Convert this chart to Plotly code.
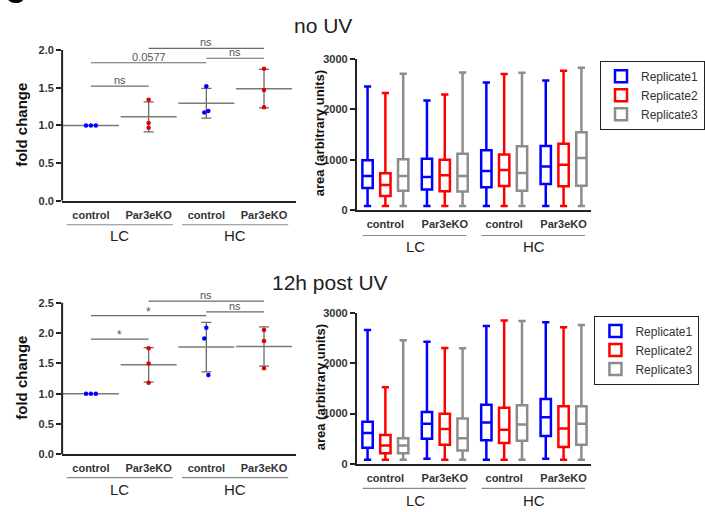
import numpy as np
import plotly.graph_objects as go

# ---------------- data ----------------
CATS = ["control", "Par3eKO", "control", "Par3eKO"]
GROUPS = ["LC", "HC"]
REPS = ["Replicate1", "Replicate2", "Replicate3"]

# fold change, three biological replicates per condition
FC_NOUV = [[1.00, 1.00, 1.00], [1.34, 1.03, 0.97], [1.52, 1.17, 1.19], [1.75, 1.47, 1.24]]
FC_UV = [[1.00, 1.00, 1.00], [1.75, 1.50, 1.18], [2.09, 1.91, 1.31], [2.05, 1.87, 1.42]]

# significance comparisons: (cat a, cat b, height, label)
SIG_NOUV = [(0, 1, 1.52, "ns"), (0, 2, 1.83, "0.0577"), (2, 3, 1.89, "ns"), (1, 3, 2.02, "ns")]
SIG_UV = [(0, 1, 1.90, "*"), (0, 2, 2.29, "*"), (2, 3, 2.35, "ns"), (1, 3, 2.53, "ns")]

# box statistics (area, arbitrary units) - no UV
NOUV_MIN = [[80, 80, 80, 80], [80, 80, 80, 80], [80, 80, 80, 80]]
NOUV_Q1 = [[439, 406, 452, 516], [277, 374, 477, 471], [381, 368, 381, 484]]
NOUV_MED = [[677, 658, 774, 865], [497, 690, 794, 897], [677, 677, 735, 1032]]
NOUV_Q3 = [[987, 1019, 1187, 1271], [729, 1000, 1103, 1316], [1006, 1116, 1264, 1542]]
NOUV_MAX = [[2452, 2174, 2529, 2568], [2322, 2290, 2697, 2761], [2703, 2729, 2723, 2819]]

# box statistics - 12h post UV
UV_MIN = [[84, 103, 84, 103], [84, 84, 84, 84], [84, 84, 84, 84]]
UV_Q1 = [[324, 500, 472, 557], [214, 383, 414, 336], [214, 266, 460, 383]]
UV_MED = [[616, 797, 822, 927], [369, 694, 680, 706], [369, 511, 783, 797]]
UV_Q3 = [[836, 1030, 1172, 1289], [577, 997, 1114, 1147], [511, 900, 1166, 1147]]
UV_MAX = [[2657, 2424, 2735, 2812], [1522, 2300, 2844, 2708], [2455, 2294, 2832, 2754]]

# ---------------- style ----------------
W, H = 705, 512
FONT = "Liberation Sans, Arial, sans-serif"
REP_COLORS = ["#0000ff", "#ff0000", "#8c8c8c"]
PT_COLORS = ["#0000ff", "#e00000", "#0000ff", "#e00000"]
JITTER = [[-0.085, 0.0, 0.085], [0, 0, 0], [0.0, -0.035, 0.035], [0, 0, 0]]
AX = "#222222"
SIGC = "#6a6a6a"
POS = [0, 1, 2, 3]


def px_x(p):
    return p / W


def px_y(p):
    return 1 - p / H


fig = go.Figure()


def dot_panel(data, sig, xa, ya, axis_max):
    xr = "x" if xa == 1 else "x%d" % xa
    yr = "y" if ya == 1 else "y%d" % ya
    for i, pts in enumerate(data):
        arr = np.array(pts)
        m, sd = arr.mean(), arr.std(ddof=1)
        fig.add_trace(go.Scatter(
            x=[POS[i]], y=[m], mode="markers", xaxis=xr, yaxis=yr, showlegend=False,
            marker=dict(symbol="line-ew-open", size=40, color="#7a7a7a",
                        line=dict(width=1.5, color="#7a7a7a")),
            error_y=dict(type="data", array=[sd], visible=True, width=5,
                         thickness=1.3, color="#6a6a6a"),
            hoverinfo="skip"))
    for i, pts in enumerate(data):
        fig.add_trace(go.Scatter(
            x=[POS[i] + j for j in JITTER[i]], y=pts, mode="markers",
            xaxis=xr, yaxis=yr, showlegend=False,
            marker=dict(size=4.5, color=PT_COLORS[i]), hoverinfo="skip"))
    for a, b, h, lab in sig:
        fig.add_shape(type="line", xref=xr, yref=yr, x0=POS[a], x1=POS[b], y0=h, y1=h,
                      line=dict(color=SIGC, width=1.2))
        fig.add_annotation(x=(POS[a] + POS[b]) / 2, y=h, xref=xr, yref=yr, text=lab,
                           showarrow=False, xanchor="center", yanchor="bottom",
                           yshift=(-5 if lab == "*" else -2),
                           font=dict(size=(12 if lab == "*" else 11), color="#555555"))
    # y-axis line up to the top tick only
    fig.add_shape(type="line", xref=xr + " domain", yref=yr, x0=0, x1=0, y0=0, y1=axis_max,
                  line=dict(color=AX, width=2))


def group_labels(xr, y_line, y_text, lo, hi):
    for g, (c0, c1) in enumerate([(0, 1), (2, 3)]):
        fig.add_shape(type="line", xref=xr, yref="paper",
                      x0=POS[c0] - lo, x1=POS[c1] + hi,
                      y0=px_y(y_line), y1=px_y(y_line),
                      line=dict(color="#8a8a8a", width=1.2))
        fig.add_annotation(x=(POS[c0] + POS[c1]) / 2, y=px_y(y_text), xref=xr, yref="paper",
                           text=GROUPS[g], showarrow=False, xanchor="center", yanchor="middle",
                           font=dict(size=15, color="#222222"))


def box_panel(mins, q1s, meds, q3s, maxs, xa, ya, legend):
    xr = "x%d" % xa
    yr = "y%d" % ya
    for r in range(3):
        fig.add_trace(go.Box(
            x=POS, q1=q1s[r], median=meds[r], q3=q3s[r],
            lowerfence=mins[r], upperfence=maxs[r],
            name=REPS[r], xaxis=xr, yaxis=yr, legend=legend,
            alignmentgroup=legend, offsetgroup=REPS[r],
            line=dict(color=REP_COLORS[r], width=2.5), fillcolor="white",
            whiskerwidth=0.7, boxpoints=False, hoverinfo="skip"))


dot_panel(FC_NOUV, SIG_NOUV, 1, 1, 2.0)
dot_panel(FC_UV, SIG_UV, 3, 3, 2.5)
box_panel(NOUV_MIN, NOUV_Q1, NOUV_MED, NOUV_Q3, NOUV_MAX, 2, 2, "legend")
box_panel(UV_MIN, UV_Q1, UV_MED, UV_Q3, UV_MAX, 4, 4, "legend2")

group_labels("x", 224, 235, 0.42, 0.42)
group_labels("x3", 483, 495, 0.42, 0.42)
group_labels("x2", 235, 246, 0.38, 0.36)
group_labels("x4", 494, 506, 0.38, 0.36)

tickfont = dict(family=FONT, size=11, color="#333333", weight="bold")


def xaxis_cfg(l, r, rng, anchor):
    return dict(domain=[px_x(l), px_x(r)], range=rng, anchor=anchor,
                tickvals=POS, ticktext=CATS, ticks="", showline=True,
                linecolor=AX, linewidth=2, showgrid=False, zeroline=False,
                tickfont=tickfont, ticklabelstandoff=3, fixedrange=True)


def yaxis_cfg(b, t, rng, tv, fmt, anchor, line):
    return dict(domain=[px_y(b), px_y(t)], range=rng, anchor=anchor,
                tickvals=tv, tickformat=fmt, ticks="outside", ticklen=5, tickwidth=2,
                tickcolor=AX, showline=line, linecolor=AX, linewidth=2,
                showgrid=False, zeroline=False, tickfont=tickfont, fixedrange=True)


# top-left: 0 at 199.5 px, 2.0 at 45 px -> range to 2.05
tl_top = 199.5 - (199.5 - 45) / 2.0 * 2.05
bl_top = 459 - (459 - 304) / 2.5 * 2.58

fig.update_layout(
    width=W, height=H,
    margin=dict(l=0, r=0, t=0, b=0),
    paper_bgcolor="white", plot_bgcolor="white",
    font=dict(family=FONT, color="#222222"),
    boxmode="group", boxgap=0.1, boxgroupgap=0.42,
    xaxis=xaxis_cfg(63, 300, [-0.5, 3.55], "y"),
    yaxis=yaxis_cfg(199.5, tl_top, [0, 2.05], [0, 0.5, 1.0, 1.5, 2.0], ".1f", "x", False),
    xaxis3=xaxis_cfg(63, 300, [-0.5, 3.55], "y3"),
    yaxis3=yaxis_cfg(459, bl_top, [0, 2.58], [0, 0.5, 1.0, 1.5, 2.0, 2.5], ".1f", "x3", False),
    xaxis2=xaxis_cfg(362, 600, [-0.48, 3.47], "y2"),
    yaxis2=yaxis_cfg(209, 54, [0, 3000], [0, 1000, 2000, 3000], "d", "x2", True),
    xaxis4=xaxis_cfg(362, 600, [-0.48, 3.47], "y4"),
    yaxis4=yaxis_cfg(469, 314, [0, 3000], [0, 1000, 2000, 3000], "d", "x4", True),
    legend=dict(x=px_x(609), y=px_y(56), xanchor="left", yanchor="top",
                bordercolor="#222222", borderwidth=1, bgcolor="white",
                font=dict(size=12, color="#333333"), tracegroupgap=0, itemwidth=30),
    legend2=dict(x=px_x(603), y=px_y(317), xanchor="left", yanchor="top",
                 bordercolor="#222222", borderwidth=1, bgcolor="white",
                 font=dict(size=12, color="#333333"), tracegroupgap=0, itemwidth=30),
)

# titles
fig.add_annotation(x=px_x(328), y=px_y(20), xref="paper", yref="paper", text="no UV",
                   showarrow=False, xanchor="center", yanchor="middle",
                   font=dict(size=21, color="#222222"))
fig.add_annotation(x=px_x(335), y=px_y(283), xref="paper", yref="paper", text="12h post UV",
                   showarrow=False, xanchor="center", yanchor="middle",
                   font=dict(size=21, color="#222222"))

# y-axis titles
for txt, xp, yp, sz in [("fold change", 21, 122, 15), ("fold change", 21, 381, 15),
                        ("area (arbitrary units)", 325, 130, 13),
                        ("area (arbitrary units)", 325, 390, 13)]:
    fig.add_annotation(x=px_x(xp), y=px_y(yp), xref="paper", yref="paper", text=txt,
                       textangle=-90, showarrow=False, xanchor="center", yanchor="middle",
                       font=dict(size=sz, color="#111111", weight="bold"))

# cropped panel letter at the top-left corner
fig.add_annotation(x=px_x(15), y=px_y(-13), xref="paper", yref="paper", text="C",
                   showarrow=False, xanchor="center", yanchor="middle",
                   font=dict(size=28, color="#000000", weight="bold"))

fig.write_html("out.html", config={"displayModeBar": False},
               post_script="document.body.style.margin='0px';"
                           "document.body.style.overflow='hidden';")
